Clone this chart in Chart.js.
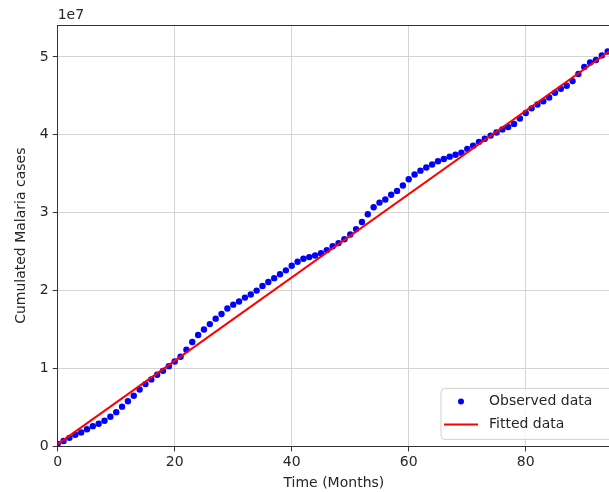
<!DOCTYPE html>
<html lang="en">
<head>
<meta charset="UTF-8">
<title>Cumulated Malaria cases</title>
<script src="https://cdn.jsdelivr.net/npm/chart.js"></script>
<style>
    body { margin: 0; background: #fff; overflow: hidden; }
    #wrap { width: 614px; height: 492px; position: relative; }
</style>
</head>
<body>
<div id="wrap"><canvas id="myChart"></canvas></div>
<script>
    // months and cumulated cases (units of 1e7)
    const months = [0,1,2,3,4,5,6,7,8,9,10,11,12,13,14,15,16,17,18,19,20,21,22,23,24,25,26,27,28,29,
        30,31,32,33,34,35,36,37,38,39,40,41,42,43,44,45,46,47,48,49,50,51,52,53,54,55,56,57,58,59,
        60,61,62,63,64,65,66,67,68,69,70,71,72,73,74,75,76,77,78,79,80,81,82,83,84,85,86,87,88,89,
        90,91,92,93,94];
    const observedCases = [0.03,0.07,0.11,0.15,0.18,0.22,0.26,0.29,0.33,0.38,0.44,0.51,0.58,0.65,0.73,0.80,0.86,0.92,0.97,1.03,
        1.09,1.15,1.24,1.34,1.43,1.50,1.57,1.64,1.70,1.77,1.82,1.86,1.91,1.95,2.00,2.06,2.11,2.16,2.21,2.26,
        2.32,2.37,2.41,2.43,2.45,2.48,2.52,2.57,2.61,2.66,2.72,2.79,2.88,2.98,3.07,3.13,3.17,3.23,3.28,3.35,
        3.43,3.49,3.54,3.58,3.62,3.66,3.69,3.72,3.745,3.77,3.82,3.86,3.91,3.95,3.99,4.03,4.07,4.10,4.14,4.21,
        4.28,4.34,4.39,4.43,4.48,4.54,4.59,4.63,4.69,4.78,4.87,4.93,4.96,5.02,5.07];
    const fittedMonths = [0, 94.4];
    const fittedCases = [0.03, 5.08];
    const xTicks = [0, 20, 40, 60, 80];
    const yTicks = [0, 1, 2, 3, 4, 5];

    const FONT = 'DejaVu Sans';
    const TXT = '#262626';

    // frame top line + offset label "1e7"
    const framePlugin = {
        id: 'frame',
        afterDraw(chart) {
            const {ctx, chartArea} = chart;
            ctx.save();
            ctx.strokeStyle = '#333';
            ctx.lineWidth = 1;
            ctx.beginPath();
            ctx.moveTo(chartArea.left, chartArea.top + 0.5);
            ctx.lineTo(chartArea.right, chartArea.top + 0.5);
            ctx.stroke();
            ctx.fillStyle = TXT;
            ctx.font = '14px "' + FONT + '"';
            ctx.textAlign = 'left';
            ctx.textBaseline = 'bottom';
            ctx.fillText('1e7', chartArea.left, chartArea.top - 3);
            ctx.restore();
        }
    };

    // matplotlib-like legend in the lower right corner
    const legendPlugin = {
        id: 'boxLegend',
        afterDatasetsDraw(chart) {
            const {ctx, chartArea} = chart;
            const left = chartArea.right - 169, top = chartArea.bottom - 58;
            ctx.save();
            ctx.beginPath();
            ctx.roundRect(left, top, 190, 51, 4);
            ctx.fillStyle = 'rgba(255,255,255,0.8)';
            ctx.fill();
            ctx.strokeStyle = '#d0d0d0';
            ctx.stroke();
            ctx.font = '14px "' + FONT + '"';
            ctx.textBaseline = 'middle';
            ctx.fillStyle = TXT;
            const ds = chart.data.datasets;
            // observed
            ctx.beginPath();
            ctx.arc(left + 20, top + 13, 3, 0, Math.PI * 2);
            ctx.fillStyle = ds[0].backgroundColor;
            ctx.fill();
            ctx.fillStyle = TXT;
            ctx.fillText(ds[0].label, left + 48, top + 13);
            // fitted
            ctx.beginPath();
            ctx.moveTo(left + 3, top + 36);
            ctx.lineTo(left + 37, top + 36);
            ctx.strokeStyle = ds[1].borderColor;
            ctx.lineWidth = 2;
            ctx.stroke();
            ctx.fillText(ds[1].label, left + 48, top + 36);
            ctx.restore();
        }
    };

    const ctx = document.getElementById('myChart').getContext('2d');
    const myChart = new Chart(ctx, {
        type: 'scatter',
        data: {
            datasets: [{
                label: 'Observed data',
                data: months.map((m, i) => ({x: m, y: observedCases[i]})),
                backgroundColor: '#0000ff',
                borderColor: '#0000ff',
                pointRadius: 3.2,
                borderWidth: 0,
                order: 1
            }, {
                label: 'Fitted data',
                data: fittedMonths.map((m, i) => ({x: m, y: fittedCases[i]})),
                showLine: true,
                borderColor: '#ff0000',
                backgroundColor: '#ff0000',
                borderWidth: 2,
                pointRadius: 0,
                order: 0
            }]
        },
        options: {
            responsive: true,
            maintainAspectRatio: false,
            animation: false,
            layout: { padding: { top: 25, right: 0, left: 9, bottom: 0 } },
            plugins: {
                legend: { display: false },
                tooltip: { enabled: false }
            },
            scales: {
                x: {
                    type: 'linear',
                    min: 0,
                    max: 94.4,
                    afterBuildTicks: axis => { axis.ticks = xTicks.map(v => ({value: v})); },
                    ticks: { color: TXT, font: {family: FONT, size: 14}, padding: 3, maxRotation: 0 },
                    grid: { color: '#d4d4d4', tickColor: '#333', tickLength: 5 },
                    border: { color: '#333', width: 1 },
                    title: { display: true, text: 'Time (Months)', color: TXT, font: {family: FONT, size: 14}, padding: {top: 1, bottom: 0} }
                },
                y: {
                    min: 0,
                    max: 5.41,
                    afterBuildTicks: axis => { axis.ticks = yTicks.map(v => ({value: v})); },
                    ticks: { color: TXT, font: {family: FONT, size: 14}, padding: 4 },
                    grid: { color: '#d4d4d4', tickColor: '#333', tickLength: 5 },
                    border: { color: '#333', width: 1 },
                    title: { display: true, text: 'Cumulated Malaria cases', color: TXT, font: {family: FONT, size: 14}, padding: {top: 4, bottom: 6} }
                }
            }
        },
        plugins: [framePlugin, legendPlugin]
    });
</script>
</body>
</html>
